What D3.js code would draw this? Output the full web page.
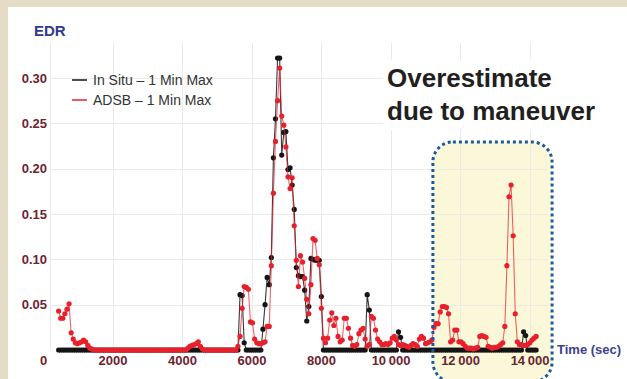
<!DOCTYPE html>
<html>
<head>
<meta charset="utf-8">
<script src="https://cdn.jsdelivr.net/npm/d3@7"></script>
<style>
  html, body { margin: 0; padding: 0; background: #e4dcc7; }
  svg { display: block; font-family: "Liberation Sans", Arial, sans-serif; }
</style>
</head>
<body>
<svg id="chart" width="627" height="379"></svg>
<script>
// One-minute maximum EDR samples, first sample at timeStart seconds, one every timeStep seconds
const timeStart = 450;
const timeStep = 60;

// In situ EDR, 1-minute maximum
const inSitu = [
  0,0,0,0,0,0,0,0,0,0,
  0,0,0,0,0,0,0,0,0,0,
  0,0,0,0,0,0,0,0,0,0,
  0,0,0,0,0,0,0,0,0,0,
  0,0,0,0,0,0,0,0,0,0,
  0,0,0,0,0,0,0,0,0,0,
  0,0,0,0,0,0,0,0,0,0,
  0,0,0,0,0,0,0,0,0,0,
  0,0,0,0,0,0,0,.061,.060,.008,
  0,0,0,0,0,0,0,0,.023,.050,
  .080,.072,.102,.212,.255,.322,.322,.215,.240,.241,
  .199,.201,.182,.155,.091,.082,.081,.081,.066,.032,
  .048,.101,.100,.099,.099,.099,.059,0,0,0,
  0,0,0,0,0,0,0,0,0,0,
  0,0,0,0,0,0,0,0,.061,.044,
  0,0,0,0,0,0,0,0,0,0,
  0,0,0,.020,.014,0,0,0,0,0,
  0,0,0,0,0,0,0,0,0,0,
  0,0,0,0,0,0,0,0,0,0,
  0,0,0,0,0,0,0,0,0,0,
  0,0,0,0,0,0,0,0,0,0,
  0,0,0,0,0,0,0,0,0,0,
  0,0,0,.020,.016,0,0,0,0,0
];

// ADS-B derived EDR, 1-minute maximum
const adsb = [
  .043,.035,.035,.040,.045,.051,.019,.012,.008,.007,
  .008,.009,.011,.009,.005,.002,.001,0,0,0,
  0,0,0,0,0,0,0,0,0,0,
  0,0,0,0,0,0,0,0,0,0,
  0,0,0,0,0,0,0,0,0,0,
  0,0,0,0,0,0,0,0,0,0,
  0,0,.002,.004,.005,.006,.007,.009,.004,.001,
  0,0,0,0,0,0,0,0,0,0,
  0,0,0,0,0,0,.004,.015,.046,.070,
  .069,.067,.031,.030,.012,.008,.007,.007,.008,.009,
  .026,.026,.093,.173,.230,.275,.311,.258,.248,.224,
  .191,.178,.190,.137,.099,.070,.104,.097,.079,.056,
  .040,.072,.123,.121,.101,.094,.046,.013,.008,.013,
  .033,.041,.027,.035,.015,.009,.011,.035,.035,.024,
  .013,.005,.004,.006,.018,.022,.024,.012,.004,.006,
  .037,.035,.022,.012,.009,.006,.006,.007,.006,.008,
  .013,.015,.011,.006,.005,.006,.005,.004,.003,.005,
  .007,.006,.004,.012,.015,.013,.007,.008,.009,.011,
  .025,.029,.029,.042,.048,.048,.047,.040,.009,.011,
  .022,.022,.009,.009,.007,.004,.002,.002,.002,.001,
  .002,.003,.015,.016,.015,.014,.004,.003,.002,.003,
  .003,.004,.006,.008,.026,.093,.169,.182,.126,.040,
  .009,.006,.006,.005,.005,.006,.008,.011,.013,.015
];

const xTickValues = [0, 2000, 4000, 6000, 8000, 10000, 12000, 14000];
const xTickLabels = ["0", "2000", "4000", "6000", "8000", "10\u2009000", "12\u2009000", "14\u2009000"];
const yTickValues = [0.05, 0.10, 0.15, 0.20, 0.25, 0.30];
const yTickLabels = ["0.05", "0.10", "0.15", "0.20", "0.25", "0.30"];
const seriesNames = ["In Situ \u2013 1 Min Max", "ADSB \u2013 1 Min Max"];
const highlightRange = [11220, 14650];

const svg = d3.select("#chart");
const W = 627, H = 379;

const x = d3.scaleLinear().domain([0, 14000]).range([43, 529.5]);
const y = d3.scaleLinear().domain([0, 0.30]).range([350, 78]);
const plot = { left: 50, right: 548, top: 43, bottom: 350 };

// page background and white panel
svg.append("rect").attr("width", W).attr("height", H).attr("fill", "#e4dcc7");
svg.append("rect").attr("x", 8).attr("y", 7).attr("width", W - 8).attr("height", H - 7).attr("fill", "#ffffff");

// highlighted maneuver window (fill)
const hx0 = x(highlightRange[0]), hx1 = x(highlightRange[1]);
const boxTop = 142, boxHeight = 240;
svg.append("rect")
  .attr("x", hx0).attr("y", boxTop).attr("width", hx1 - hx0).attr("height", boxHeight)
  .attr("rx", 20).attr("ry", 20)
  .attr("fill", "#fbf8d9");

// grid
const grid = svg.append("g").attr("stroke", "#eaeaea").attr("stroke-width", 1).attr("fill", "none");
grid.selectAll(".hg").data(yTickValues).join("line")
  .attr("x1", plot.left).attr("x2", plot.right)
  .attr("y1", d => Math.round(y(d)) + 0.5).attr("y2", d => Math.round(y(d)) + 0.5);
grid.selectAll(".vg").data(xTickValues.slice(1)).join("line")
  .attr("x1", d => Math.round(x(d)) + 0.5).attr("x2", d => Math.round(x(d)) + 0.5)
  .attr("y1", plot.top).attr("y2", plot.bottom);
grid.append("line")
  .attr("x1", plot.left + 0.5).attr("x2", plot.left + 0.5)
  .attr("y1", plot.top).attr("y2", plot.bottom);

// annotation with white backing
svg.append("rect").attr("x", 383).attr("y", 60).attr("width", 222).attr("height", 70).attr("fill", "#ffffff");
const note = svg.append("text")
  .attr("font-size", 26).attr("font-weight", "bold").attr("fill", "#231f20");
note.append("tspan").attr("x", 387).attr("y", 87).text("Overestimate");
note.append("tspan").attr("x", 387).attr("y", 120).text("due to maneuver");

// series
const tOf = i => timeStart + i * timeStep;
const line = d3.line().x((d, i) => x(tOf(i))).y(d => y(d));

function drawSeries(values, color, lineOpacity) {
  const g = svg.append("g");
  g.append("path").datum(values)
    .attr("d", line)
    .attr("fill", "none")
    .attr("stroke", color)
    .attr("stroke-width", 1.1)
    .attr("stroke-opacity", lineOpacity);
  g.selectAll("circle").data(values).join("circle")
    .attr("cx", (d, i) => x(tOf(i)))
    .attr("cy", d => y(d))
    .attr("r", 2.6)
    .attr("fill", color);
}
drawSeries(inSitu, "#151515", 0.85);
drawSeries(adsb, "#e8202c", 0.7);

// dotted outline of the maneuver window
svg.append("rect")
  .attr("x", hx0).attr("y", boxTop).attr("width", hx1 - hx0).attr("height", boxHeight)
  .attr("rx", 20).attr("ry", 20)
  .attr("fill", "none")
  .attr("stroke", "#1a5a9c")
  .attr("stroke-width", 3)
  .attr("stroke-dasharray", "3,3");

// axes
const yAxis = d3.axisLeft(y).tickValues(yTickValues)
  .tickFormat((d, i) => yTickLabels[i]).tickSize(0).tickPadding(0);
const gy = svg.append("g").attr("transform", "translate(47,0)").call(yAxis);
gy.select(".domain").remove();
gy.selectAll("text")
  .attr("font-family", "Liberation Sans, Arial, sans-serif")
  .attr("font-size", 13).attr("font-weight", "bold").attr("fill", "#6c2431");

const xAxis = d3.axisBottom(x).tickValues(xTickValues)
  .tickFormat((d, i) => xTickLabels[i]).tickSize(0).tickPadding(6);
const gx = svg.append("g").attr("transform", "translate(0,350)").call(xAxis);
gx.select(".domain").remove();
gx.selectAll("text")
  .attr("font-family", "Liberation Sans, Arial, sans-serif")
  .attr("font-size", 13).attr("font-weight", "bold").attr("fill", "#6c2431");

// axis titles
svg.append("text").attr("x", 34).attr("y", 36)
  .attr("font-size", 15).attr("font-weight", "bold").attr("fill", "#2f3a8c").text("EDR");
svg.append("text").attr("x", 557).attr("y", 354)
  .attr("font-size", 13).attr("font-weight", "bold").attr("fill", "#3d4190").text("Time (sec)");

// legend
const legendColors = ["#151515", "#e8202c"];
const legend = svg.append("g");
seriesNames.forEach((name, i) => {
  const ly = 80 + i * 20;
  legend.append("line").attr("x1", 72).attr("x2", 87).attr("y1", ly).attr("y2", ly)
    .attr("stroke", legendColors[i]).attr("stroke-width", 1.5);
  legend.append("text").attr("x", 93).attr("y", ly + 5)
    .attr("font-size", 14).attr("fill", "#333333").text(name);
});
</script>
</body>
</html>
